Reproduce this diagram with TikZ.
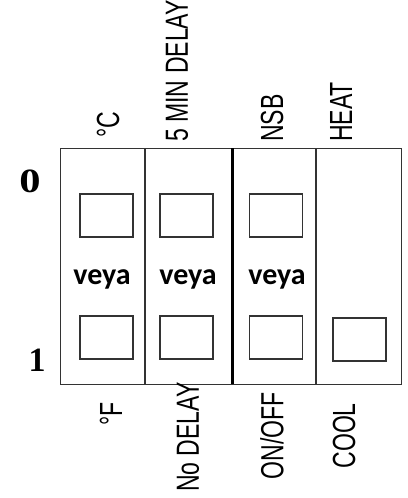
\documentclass[tikz,border=0pt]{standalone}
\usepackage{fontspec}
\setmainfont{Liberation Serif}
\newfontfamily\labfont{Liberation Sans}
\newfontfamily\veyafont{Carlito}
\begin{document}
\begin{tikzpicture}[x=1pt,y=1pt,
  sq/.style={draw=black!80, line width=1.4pt, minimum width=53pt, minimum height=43pt, inner sep=0pt},
  lab/.style={rotate=90, inner sep=0pt, text=black, font=\labfont\fontsize{32}{32}\selectfont},
  veyalab/.style={inner sep=0pt, font=\veyafont\bfseries\fontsize{30}{30}\selectfont, text=black},
  digit/.style={inner sep=0pt, font=\bfseries\fontsize{34}{34}\selectfont},
  frame/.style={draw=black!80, line width=1.4pt}]
\useasboundingbox (0,0) rectangle (407,-498);
% panel
\node[frame, minimum width=341pt, minimum height=236pt, inner sep=0pt, anchor=north west] (panel) at (60,-148) {};
\coordinate (d1t) at (145,-148); \coordinate (d1b) at (145,-384);
\coordinate (d2t) at (232,-148); \coordinate (d2b) at (232,-384);
\coordinate (d3t) at (316,-148); \coordinate (d3b) at (316,-384);
\draw[frame] (d1t) -- (d1b);
\draw[line width=3pt] (d2t) -- (d2b);
\draw[frame] (d3t) -- (d3b);
% switches
\node[sq] (s11) at (106.5,-215.5) {};
\node[sq] (s21) at (186.5,-215.5) {};
\node[sq] (s31) at (276,-215.5) {};
\node[sq] (s12) at (106.5,-337.5) {};
\node[sq] (s22) at (186.5,-337.5) {};
\node[sq] (s32) at (276,-337.5) {};
\node[sq] (s42) at (359.5,-339.5) {};
% veya
\node[veyalab] (v1) at (102,-279) {veya};
\node[veyalab] (v2) at (188,-279) {veya};
\node[veyalab] (v3) at (277,-279) {veya};
% digits
\node[digit] (zero) at (30,-181) {\scalebox{1.25}[1]{0}};
\node[digit] (one) at (37,-360) {1};
% top labels
\node[lab, anchor=west] (tC) at (108,-138) {\scalebox{0.72}[1]{°C}};
\node[lab, anchor=west] (tD) at (177,-142) {\scalebox{0.72}[1]{5 MIN DELAY}};
\node[lab, anchor=west] (tN) at (272,-142) {\scalebox{0.72}[1]{NSB}};
\node[lab, anchor=west] (tH) at (341,-142) {\scalebox{0.72}[1]{HEAT}};
% bottom labels
\node[lab, anchor=east] (bF) at (111,-402) {\scalebox{0.72}[1]{°F}};
\node[lab, anchor=east] (bD) at (188,-382) {\scalebox{0.72}[1]{No DELAY}};
\node[lab, anchor=east] (bO) at (272,-392) {\scalebox{0.72}[1]{ON/OFF}};
\node[lab, anchor=east] (bC) at (344,-403) {\scalebox{0.72}[1]{COOL}};
\end{tikzpicture}
\end{document}
